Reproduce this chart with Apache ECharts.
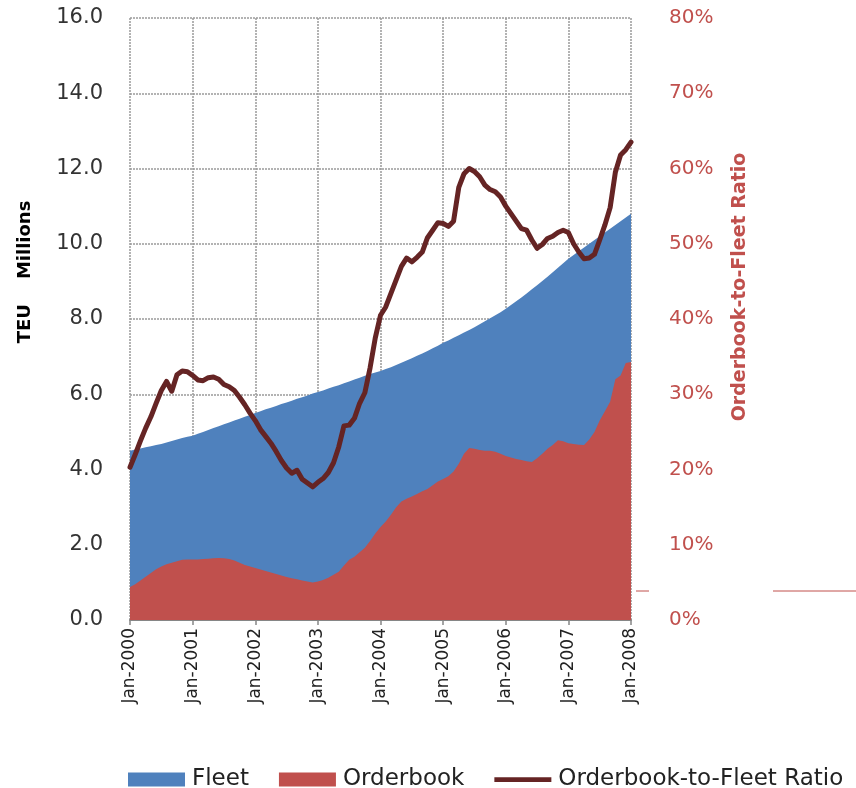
<!DOCTYPE html>
<html>
<head>
<meta charset="utf-8">
<script src="https://cdn.jsdelivr.net/npm/echarts@6/dist/echarts.min.js"></script>
<style>
html,body{margin:0;padding:0;background:#fff;}
#chart{width:856px;height:788px;}
</style>
</head>
<body>
<div id="chart"></div>
<script>
// Monthly categories Jan-2000 .. Jan-2008
const monthNames = ['Jan','Feb','Mar','Apr','May','Jun','Jul','Aug','Sep','Oct','Nov','Dec'];
const years = [2000, 2001, 2002, 2003, 2004, 2005, 2006, 2007];
const categories = [];
years.forEach(y => monthNames.forEach(m => categories.push(m + '-' + y)));
categories.push('Jan-2008');

// Fleet, TEU millions
const fleet = [
  4.50, 4.53, 4.56, 4.59, 4.62, 4.65, 4.68, 4.72, 4.76, 4.80, 4.84, 4.87,
  4.90, 4.95, 5.00, 5.05, 5.10, 5.15, 5.20, 5.25, 5.30, 5.35, 5.40, 5.45,
  5.50, 5.55, 5.60, 5.64, 5.69, 5.74, 5.78, 5.83, 5.88, 5.92, 5.97, 6.02,
  6.06, 6.10, 6.15, 6.20, 6.24, 6.29, 6.34, 6.39, 6.44, 6.49, 6.54, 6.58,
  6.62, 6.67, 6.72, 6.78, 6.84, 6.90, 6.96, 7.02, 7.08, 7.15, 7.22, 7.29,
  7.37, 7.43, 7.50, 7.57, 7.64, 7.71, 7.78, 7.86, 7.94, 8.02, 8.10, 8.18,
  8.27, 8.37, 8.47, 8.57, 8.68, 8.79, 8.90, 9.01, 9.12, 9.24, 9.36, 9.48,
  9.60, 9.70, 9.80, 9.90, 10.00, 10.10, 10.20, 10.30, 10.40, 10.50, 10.60, 10.70,
  10.80
];

// Orderbook, TEU millions
const orderbook = [
  0.88, 0.95, 1.05, 1.15, 1.25, 1.35, 1.42, 1.48, 1.52, 1.56, 1.60, 1.61,
  1.61, 1.61, 1.62, 1.63, 1.64, 1.65, 1.64, 1.62, 1.58, 1.52, 1.46, 1.42,
  1.38, 1.34, 1.30, 1.26, 1.22, 1.18, 1.14, 1.11, 1.08, 1.05, 1.02, 1.00,
  1.02, 1.06, 1.12, 1.20, 1.28, 1.45, 1.60, 1.68, 1.80, 1.92, 2.10, 2.30,
  2.47, 2.62, 2.80, 3.00, 3.15, 3.22, 3.28, 3.35, 3.42, 3.48, 3.58, 3.68,
  3.75, 3.82, 3.95, 4.15, 4.42, 4.57, 4.55, 4.52, 4.50, 4.50, 4.47, 4.42,
  4.36, 4.32, 4.28, 4.25, 4.22, 4.20, 4.30, 4.42, 4.55, 4.65, 4.78, 4.75,
  4.70, 4.68, 4.66, 4.65, 4.80, 5.00, 5.30, 5.55, 5.80, 6.40, 6.50, 6.83,
  6.86
];

// Orderbook-to-Fleet ratio, %
const ratio = [
  20.3, 22.0, 23.8, 25.5, 27.0, 28.8, 30.5, 31.7, 30.4, 32.6, 33.1, 33.0,
  32.5, 31.9, 31.8, 32.2, 32.3, 32.0, 31.3, 31.0, 30.5, 29.6, 28.6, 27.5,
  26.5, 25.3, 24.4, 23.5, 22.4, 21.2, 20.2, 19.5, 19.9, 18.7, 18.2, 17.7,
  18.3, 18.8, 19.6, 20.9, 23.0, 25.8, 25.9, 26.8, 28.8, 30.2, 33.5, 37.5,
  40.5, 41.6, 43.4, 45.2, 47.0, 48.1, 47.6, 48.2, 48.9, 50.8, 51.8, 52.8,
  52.7, 52.3, 53.0, 57.5, 59.3, 60.0, 59.6, 58.9, 57.8, 57.2, 56.9, 56.2,
  55.0, 54.0, 53.0, 52.0, 51.8, 50.5, 49.4, 49.9, 50.7, 51.0, 51.5, 51.8,
  51.5, 50.0, 48.9, 48.0, 48.1, 48.6, 50.5, 52.5, 54.8, 59.5, 61.8, 62.5,
  63.5
];

const leftTicks = { min: 0, max: 16, interval: 2 };
const rightTicks = { min: 0, max: 80, interval: 10 };

const chart = echarts.init(document.getElementById('chart'), null, { renderer: 'canvas' });
const FONT = 'DejaVu Sans';
const gridLine = { show: true, lineStyle: { color: '#9a9a9a', type: [2, 1], width: 1.5 } };

chart.setOption({
  animation: false,
  backgroundColor: '#fff',
  grid: { left: 130, right: 225, top: 18, bottom: 168, containLabel: false },
  legend: {
    top: 763,
    left: 123,
    itemWidth: 57,
    itemHeight: 14,
    itemGap: 30,
    textStyle: { fontFamily: FONT, fontSize: 23, color: '#222', padding: [0, 0, 0, 2] },
    data: [
      { name: 'Fleet', icon: 'rect' },
      { name: 'Orderbook', icon: 'rect' },
      { name: 'Orderbook-to-Fleet Ratio', icon: 'path://M0,0 L12,0 L12,1 L0,1 Z' }
    ]
  },
  xAxis: {
    type: 'category',
    data: categories,
    boundaryGap: false,
    axisLine: { show: true, lineStyle: { color: '#868686', width: 2 } },
    axisTick: { show: true, interval: 11, length: 5, lineStyle: { color: '#868686', width: 1.5 } },
    axisLabel: { interval: 11, rotate: 90, margin: 8, fontFamily: FONT, fontSize: 17, color: '#222' },
    splitLine: Object.assign({ interval: 11 }, gridLine)
  },
  yAxis: [
    {
      type: 'value',
      min: leftTicks.min, max: leftTicks.max, interval: leftTicks.interval,
      axisLine: { show: false }, axisTick: { show: false },
      axisLabel: { margin: 27, fontFamily: FONT, fontSize: 21, color: '#333', formatter: v => v.toFixed(1) },
      splitLine: gridLine
    },
    {
      type: 'value',
      min: rightTicks.min, max: rightTicks.max, interval: rightTicks.interval,
      axisLine: { show: false }, axisTick: { show: false },
      axisLabel: { margin: 38, fontFamily: FONT, fontSize: 20, color: '#C0504D', formatter: '{value}%' },
      splitLine: { show: false }
    }
  ],
  series: [
    {
      name: 'Fleet', type: 'line', data: fleet, yAxisIndex: 0,
      showSymbol: false, symbol: 'none',
      lineStyle: { width: 0 }, itemStyle: { color: '#4F81BD' },
      areaStyle: { color: '#4F81BD', opacity: 1 }
    },
    {
      name: 'Orderbook', type: 'line', data: orderbook, yAxisIndex: 0,
      showSymbol: false, symbol: 'none',
      lineStyle: { width: 0 }, itemStyle: { color: '#C0504D' },
      areaStyle: { color: '#C0504D', opacity: 1 }
    },
    {
      name: 'Orderbook-to-Fleet Ratio', type: 'line', data: ratio, yAxisIndex: 1,
      showSymbol: false, symbol: 'none',
      lineStyle: { width: 5, color: '#652424', cap: 'round', join: 'round' },
      itemStyle: { color: '#652424' }
    }
  ],
  graphic: [
    {
      type: 'text', x: 25, y: 272, rotation: Math.PI / 2,
      style: { text: 'TEU    Millions', fontFamily: FONT, fontWeight: 'bold', fontSize: 18, fill: '#000', align: 'center', verticalAlign: 'middle' }
    },
    {
      type: 'text', x: 740, y: 287, rotation: Math.PI / 2,
      style: { text: 'Orderbook-to-Fleet Ratio', fontFamily: FONT, fontWeight: 'bold', fontSize: 19, fill: '#C0504D', align: 'center', verticalAlign: 'middle' }
    },
    { type: 'line', shape: { x1: 636, y1: 591, x2: 649, y2: 591 }, style: { stroke: '#C0504D', lineWidth: 1 } },
    { type: 'line', shape: { x1: 773, y1: 591, x2: 856, y2: 591 }, style: { stroke: '#C0504D', lineWidth: 1 } }
  ]
});
</script>
</body>
</html>
